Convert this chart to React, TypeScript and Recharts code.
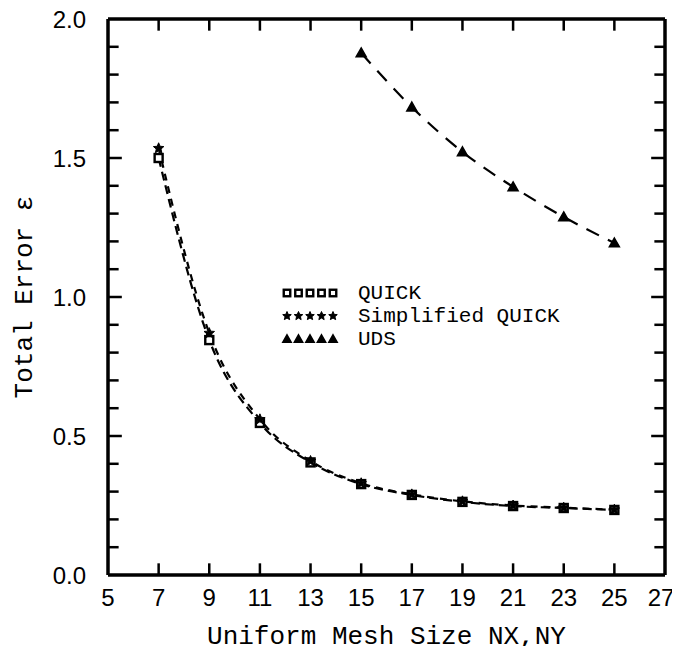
import { LineChart, Line, XAxis, YAxis, Legend, ReferenceLine } from "recharts";

const meshSizes = [7, 9, 11, 13, 15, 17, 19, 21, 23, 25];
const quickError = [1.5, 0.845, 0.547, 0.405, 0.327, 0.288, 0.263, 0.248, 0.241, 0.234];
const simplifiedQuickError = [1.535, 0.87, 0.56, 0.41, 0.33, 0.29, 0.265, 0.25, 0.242, 0.235];
const udsError = [null, null, null, null, 1.878, 1.683, 1.522, 1.396, 1.288, 1.194];

const xTicks = [5, 7, 9, 11, 13, 15, 17, 19, 21, 23, 25, 27];
const yTicks = [0, 0.1, 0.2, 0.3, 0.4, 0.5, 0.6, 0.7, 0.8, 0.9, 1.0, 1.1, 1.2, 1.3, 1.4, 1.5, 1.6, 1.7, 1.8, 1.9, 2.0];
const seriesNames = ["QUICK", "Simplified QUICK", "UDS"];

const rows = meshSizes.map((n, i) => ({
  n,
  quick: quickError[i],
  simplified: simplifiedQuickError[i],
  uds: udsError[i],
}));

const X_MIN = 5;
const X_MAX = 27;
const Y_MIN = 0;
const Y_MAX = 2;

const SANS = "Liberation Sans, Arial, sans-serif";
const MONO = "Liberation Mono, Courier New, monospace";

// marker shapes
function square(cx: number, cy: number, s: number, key?: any) {
  return <rect key={key} x={cx - s / 2} y={cy - s / 2} width={s} height={s} fill="#fff" stroke="#000" strokeWidth={2.4} />;
}

function star(cx: number, cy: number, r: number, key?: any) {
  const pts: string[] = [];
  for (let k = 0; k < 10; k++) {
    const rad = k % 2 === 0 ? r : r * 0.45;
    const a = -Math.PI / 2 + (k * Math.PI) / 5;
    pts.push(`${cx + rad * Math.cos(a)},${cy + rad * Math.sin(a)}`);
  }
  return <polygon key={key} points={pts.join(" ")} fill="#000" stroke="#000" strokeWidth={1} />;
}

function triangle(cx: number, cy: number, r: number, key?: any) {
  const pts = `${cx},${cy - r} ${cx + r},${cy + r * 0.75} ${cx - r},${cy + r * 0.75}`;
  return <polygon key={key} points={pts} fill="#000" stroke="#000" strokeWidth={1.5} />;
}

const dotOf = (kind: string) => (p: any) => {
  if (p.cy == null || p.value == null) return <g key={p.index} />;
  if (kind === "square") return square(p.cx, p.cy, 8, p.index);
  if (kind === "star") return star(p.cx, p.cy, 5.5, p.index);
  return triangle(p.cx, p.cy, 5, p.index);
};

// inward frame ticks as short reference segments (length in axis units)
const X_TICK_LEN = 0.042; // y-units, ~12px
const Y_TICK_LEN = 0.42; // x-units, ~11px
const isMajorY = (v: number) => Math.abs(v * 2 - Math.round(v * 2)) < 1e-6;
const innerX = xTicks.filter((v) => v > X_MIN && v < X_MAX);
const innerY = yTicks.filter((v) => v > Y_MIN && v < Y_MAX);

const XGAP = 13;
const YGAP = 22;

const BottomTick = (p: any) => {
  const v = p.payload.value;
  const last = v === xTicks[xTicks.length - 1];
  return (
    <text x={Number(p.x) - (last ? 4 : 0)} y={Number(p.y)} dy="0.75em" textAnchor="middle" fontFamily={SANS} fontSize={24} fill="#000">
      {v}
    </text>
  );
};

const LeftTick = (p: any) => {
  const v = p.payload.value;
  if (!isMajorY(v)) return <g />;
  return (
    <text x={Number(p.x)} y={Number(p.y)} dominantBaseline="central" textAnchor="end" fontFamily={SANS} fontSize={24} fill="#000">
      {v.toFixed(1)}
    </text>
  );
};

const XTitle = (props: any) => {
  const vb = props.viewBox || {};
  return (
    <text x={vb.x + vb.width / 2} y={vb.y + 62} textAnchor="middle" dominantBaseline="central" fontFamily={MONO} fontSize={26} fill="#000">
      Uniform Mesh Size NX,NY
    </text>
  );
};

const YTitle = (props: any) => {
  const vb = props.viewBox || {};
  const cx = vb.x + 25;
  const cy = vb.y + vb.height / 2;
  return (
    <text x={cx} y={cy} transform={`rotate(-90 ${cx} ${cy})`} textAnchor="middle" dominantBaseline="central" fontFamily={MONO} fontSize={26} fill="#000">
      Total Error ε
    </text>
  );
};

const LegendBox = () => {
  const kinds = ["square", "star", "triangle"];
  return (
    <svg width={300} height={72} style={{ display: "block" }}>
      {seriesNames.map((name, i) => {
        const y = 12 + i * 23;
        return (
          <g key={name}>
            {[0, 1, 2, 3, 4].map((j) => {
              const x = 9 + j * 11.5;
              if (kinds[i] === "square") return square(x, y, 6.5, j);
              if (kinds[i] === "star") return star(x, y, 4.5, j);
              return triangle(x, y, 4.2, j);
            })}
            <text x={80} y={y} dominantBaseline="central" fontFamily={MONO} fontSize={21} fill="#000">
              {name}
            </text>
          </g>
        );
      })}
    </svg>
  );
};

const axisLine = { stroke: "#000", strokeWidth: 3.5 };

export default function App() {
  return (
    <div style={{ margin: -8 }}>
      <LineChart width={680} height={654} data={rows} margin={{ top: 18, right: 14, bottom: 0, left: 0 }}>
        <XAxis
          dataKey="n"
          type="number"
          domain={[X_MIN, X_MAX]}
          ticks={xTicks}
          interval={0}
          height={79}
          tickSize={0}
          tickMargin={XGAP}
          axisLine={axisLine}
          tickLine={false}
          tick={BottomTick}
          label={<XTitle />}
        />
        <XAxis
          xAxisId="top"
          orientation="top"
          type="number"
          domain={[X_MIN, X_MAX]}
          ticks={xTicks}
          height={1}
          tickSize={0}
          axisLine={axisLine}
          tickLine={false}
          tick={false}
        />
        <YAxis
          type="number"
          domain={[Y_MIN, Y_MAX]}
          ticks={yTicks}
          interval={0}
          width={108}
          tickSize={0}
          tickMargin={YGAP}
          axisLine={axisLine}
          tickLine={false}
          tick={LeftTick}
          label={<YTitle />}
        />
        <YAxis
          yAxisId="right"
          orientation="right"
          type="number"
          domain={[Y_MIN, Y_MAX]}
          ticks={yTicks}
          width={1}
          tickSize={0}
          axisLine={axisLine}
          tickLine={false}
          tick={false}
        />
        {innerX.map((v) => (
          <ReferenceLine key={`b${v}`} segment={[{ x: v, y: Y_MIN }, { x: v, y: Y_MIN + X_TICK_LEN }]} stroke="#000" strokeWidth={2.5} ifOverflow="visible" />
        ))}
        {innerX.map((v) => (
          <ReferenceLine key={`t${v}`} segment={[{ x: v, y: Y_MAX }, { x: v, y: Y_MAX - X_TICK_LEN }]} stroke="#000" strokeWidth={2.5} ifOverflow="visible" />
        ))}
        {innerY.map((v) => (
          <ReferenceLine key={`l${v}`} segment={[{ x: X_MIN, y: v }, { x: X_MIN + Y_TICK_LEN * (isMajorY(v) ? 1.3 : 1), y: v }]} stroke="#000" strokeWidth={2.5} ifOverflow="visible" />
        ))}
        {innerY.map((v) => (
          <ReferenceLine key={`r${v}`} segment={[{ x: X_MAX, y: v }, { x: X_MAX - Y_TICK_LEN * (isMajorY(v) ? 1.3 : 1), y: v }]} stroke="#000" strokeWidth={2.5} ifOverflow="visible" />
        ))}
        <Legend
          layout="horizontal"
          verticalAlign="middle"
          align="center"
          wrapperStyle={{ top: 281, left: 278, width: "auto" }}
          content={() => <LegendBox />}
        />
        <Line type="monotone" dataKey="quick" name="QUICK" stroke="#000" strokeWidth={2.2} strokeDasharray="9 5" dot={dotOf("square")} isAnimationActive={false} />
        <Line type="monotone" dataKey="simplified" name="Simplified QUICK" stroke="#000" strokeWidth={2.2} strokeDasharray="7 6" dot={dotOf("star")} isAnimationActive={false} />
        <Line type="monotone" dataKey="uds" name="UDS" stroke="#000" strokeWidth={2.2} strokeDasharray="14 10" dot={dotOf("triangle")} isAnimationActive={false} />
      </LineChart>
    </div>
  );
}
